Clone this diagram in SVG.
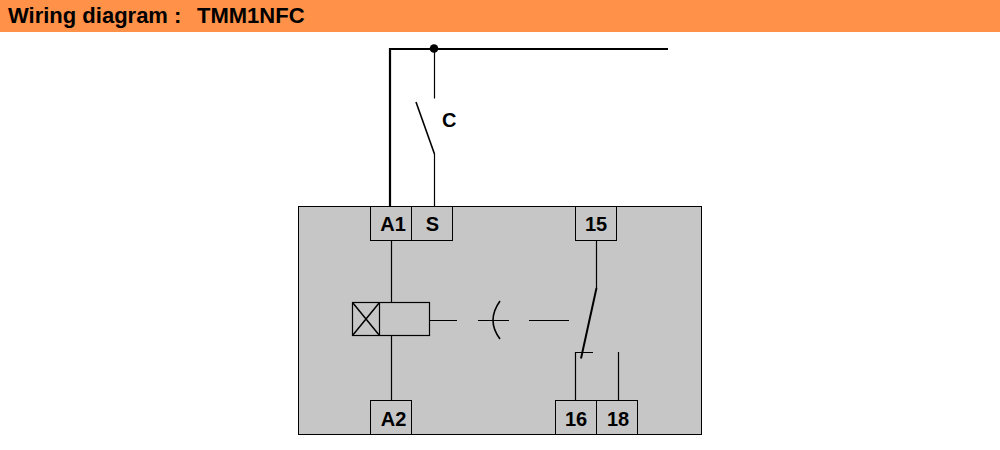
<svg xmlns="http://www.w3.org/2000/svg" width="1000" height="450" viewBox="0 0 1000 450">
<style>
.l{fill:none;stroke:#000;stroke-width:1.200}
.t{fill:none;stroke:#000;stroke-width:2.200}
.b{fill:#c6c6c6;stroke:#000;stroke-width:1}
.h{font-size:22px}
text{font-family:"Liberation Sans",Arial,sans-serif;font-weight:bold;font-size:20px;fill:#000}
.m{text-anchor:middle}
</style>
<rect width="1000" height="450" fill="#fff"/>
<g id="header"><rect x="0" y="0" width="1000" height="32" fill="#ff9148"/>
<text class="h" x="8" y="23">Wiring diagram :</text>
<text class="h" x="197" y="23">TMM1NFC</text></g>
<g id="module"><rect class="b" x="298.500" y="206.500" width="403" height="228"/></g>
<g id="A1"><rect class="b" x="370.500" y="206.500" width="41" height="34"/><text class="m" x="393" y="231">A1</text></g>
<g id="S"><rect class="b" x="411.500" y="206.500" width="41" height="34"/><text class="m" x="432.500" y="231">S</text></g>
<g id="n15"><rect class="b" x="575.500" y="206.500" width="41" height="34"/><text class="m" x="596" y="231">15</text></g>
<g id="A2"><rect class="b" x="370.500" y="400.500" width="41" height="34"/><text class="m" x="393.500" y="426">A2</text></g>
<g id="n16"><rect class="b" x="555.500" y="400.500" width="41" height="34"/><text class="m" x="576" y="426">16</text></g>
<g id="n18"><rect class="b" x="596.500" y="400.500" width="41" height="34"/><text class="m" x="618" y="426">18</text></g>
<g id="C"><text x="442" y="127">C</text></g>
<g id="coil"><rect class="l" x="352.500" y="302.500" width="77" height="33"/>
<path class="l" d="M379.500 302.500V335.500"/><path class="l" d="M352.500 302.500L379.500 335.500M379.500 302.500L352.500 335.500" style="stroke-width:1.500"/></g>
<g id="connectors">
<path class="t" d="M390 206V49H668"/>
<circle cx="434" cy="48.500" r="4.300" fill="#000"/>
<path class="l" d="M434.500 49V98.500M434.500 154V206M391.500 240V302M391.500 336V400"/>
<path d="M416 102L434.500 154" fill="none" stroke="#000" stroke-width="1.600"/>
<path class="l" d="M430 320.500H457M478 320.500H509M529 320.500H569"/>
<path d="M500 301Q486 320.500 500 339" fill="none" stroke="#000" stroke-width="1.600"/>
<path class="l" d="M596.500 240V288M575.500 400V352.500H593M618.500 400V352"/>
<path d="M596.500 288L581 358.500" fill="none" stroke="#000" stroke-width="2"/>
</g>
</svg>
